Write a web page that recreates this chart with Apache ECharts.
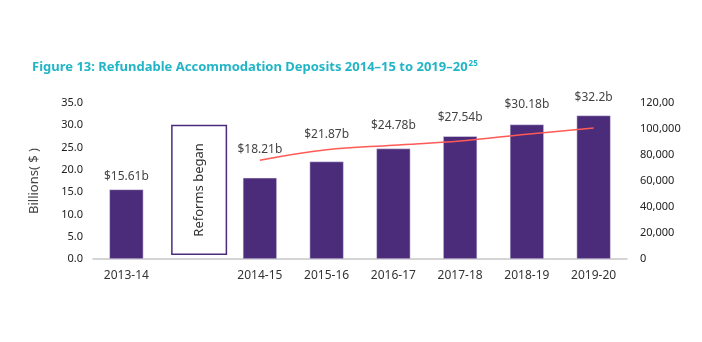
<!DOCTYPE html>
<html>
<head>
<meta charset="utf-8">
<script src="https://cdn.jsdelivr.net/npm/echarts@6/dist/echarts.min.js"></script>
<style>html,body{margin:0;padding:0;background:#fff;}#c{width:702px;height:342px;}</style>
</head>
<body>
<div id="c"></div>
<script>
var categories = ['2013-14', '', '2014-15', '2015-16', '2016-17', '2017-18', '2018-19', '2019-20'];
var depositValues = [15.61, null, 18.21, 21.87, 24.78, 27.54, 30.18, 32.2];
var depositLabels = ['$15.61b', '', '$18.21b', '$21.87b', '$24.78b', '$27.54b', '$30.18b', '$32.2b'];
var residentValues = [null, null, 76000, 84000, 87500, 90800, 96000, 100800];
var reformBase = [null, 0.9, null, null, null, null, null, null];
var reformBox = [null, 29.2, null, null, null, null, null, null];
var leftTicks = ['0.0', '5.0', '10.0', '15.0', '20.0', '25.0', '30.0', '35.0'];
var rightTicks = ['0', '20,000', '40,000', '60,000', '80,000', '100,000', '120,00'];

// label gaps above each bar (style only)
var labelGaps = [7, 0, 22, 21, 17, 13, 14, 12];

var FONT = 'Noto Sans';
var chart = echarts.init(document.getElementById('c'), null, {renderer: 'canvas'});
chart.setOption({
  animation: false,
  backgroundColor: '#fff',
  title: {
    text: '{t|Figure 13: Refundable Accommodation Deposits 2014\u201315 to 2019\u201320}{s|25}',
    left: 27, top: 55,
    textStyle: {
      rich: {
        t: {fontFamily: FONT, fontWeight: 'bold', fontSize: 13, color: '#22b5c6'},
        s: {fontFamily: FONT, fontWeight: 'bold', fontSize: 8, color: '#22b5c6', verticalAlign: 'top', padding: [0, 0, 7, 1]}
      }
    }
  },
  grid: {left: 93, right: 75, top: 103, bottom: 83, containLabel: false},
  xAxis: [{
    type: 'category', data: categories,
    axisLine: {lineStyle: {color: '#c8c8c8', width: 1.5}},
    axisTick: {show: false},
    axisLabel: {fontFamily: FONT, fontSize: 12, color: '#333', margin: 11, interval: 0}
  }, {
    type: 'category', data: categories, show: false
  }],
  yAxis: [{
    type: 'value', min: 0, max: 35, interval: 5,
    name: 'Billions( $ )', nameLocation: 'middle', nameGap: 52, nameRotate: 90,
    nameTextStyle: {fontFamily: FONT, fontSize: 13, color: '#444'},
    axisLine: {show: false}, axisTick: {show: false}, splitLine: {show: false},
    axisLabel: {fontFamily: FONT, fontSize: 11, color: '#222', margin: 10,
      formatter: function (v) { return leftTicks[Math.round(v / 5)]; }}
  }, {
    type: 'value', min: 0, max: 120000, interval: 20000, position: 'right',
    axisLine: {show: false}, axisTick: {show: false}, splitLine: {show: false},
    axisLabel: {fontFamily: FONT, fontSize: 11, color: '#222', margin: 13,
      formatter: function (v) { return rightTicks[Math.round(v / 20000)]; }}
  }],
  series: [{
    name: 'Deposits', type: 'bar', xAxisIndex: 0, yAxisIndex: 0,
    data: depositValues.map(function (v, i) {
      return {value: v, label: {distance: labelGaps[i]}};
    }),
    barWidth: 34,
    itemStyle: {color: '#4b2c7b', borderColor: '#e6e0ee', borderWidth: 0.5},
    label: {show: true, position: 'top', fontFamily: FONT, fontSize: 12, color: '#444',
      formatter: function (p) { return depositLabels[p.dataIndex]; }}
  }, {
    name: 'spacer', type: 'bar', xAxisIndex: 1, yAxisIndex: 0,
    data: [null, null, null, null, null, null, null, null], barWidth: 12, barGap: 0,
    itemStyle: {color: 'transparent'}, silent: true
  }, {
    name: 'reformBase', type: 'bar', xAxisIndex: 1, yAxisIndex: 0, stack: 'r',
    data: reformBase, barWidth: 56, itemStyle: {color: 'transparent'}, silent: true
  }, {
    name: 'Reforms', type: 'bar', xAxisIndex: 1, yAxisIndex: 0, stack: 'r',
    data: reformBox, barWidth: 56,
    itemStyle: {color: '#fff', borderColor: '#4b2c7b', borderWidth: 1.5},
    label: {show: true, position: 'inside', rotate: 90, fontFamily: FONT, fontSize: 13, color: '#333',
      formatter: 'Reforms began'}
  }, {
    name: 'Residents', type: 'line', xAxisIndex: 0, yAxisIndex: 1,
    data: residentValues, smooth: 0.4, showSymbol: false, symbol: 'none',
    lineStyle: {color: '#ff5a55', width: 1.5}, z: 5
  }]
});
</script>
</body>
</html>
